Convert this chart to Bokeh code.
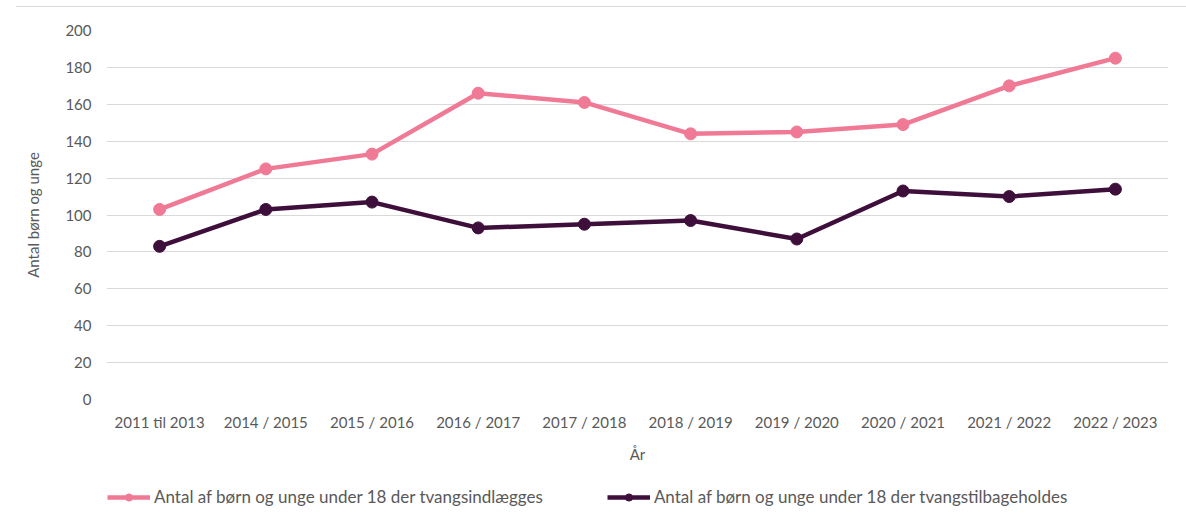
from bokeh.plotting import figure
from bokeh.models import Legend, LegendItem, FactorRange, Range1d, Div
from bokeh.layouts import column
from bokeh.embed import file_html
from bokeh.resources import INLINE

years = ["2011 til 2013", "2014 / 2015", "2015 / 2016", "2016 / 2017", "2017 / 2018",
         "2018 / 2019", "2019 / 2020", "2020 / 2021", "2021 / 2022", "2022 / 2023"]
indlaegges = [103, 125, 133, 166, 161, 144, 145, 149, 170, 185]
tilbageholdes = [83, 103, 107, 93, 95, 97, 87, 113, 110, 114]
y_ticks = [0, 20, 40, 60, 80, 100, 120, 140, 160, 180, 200]
label_pink = "Antal af børn og unge under 18 der tvangsindlægges"
label_dark = "Antal af børn og unge under 18 der tvangstilbageholdes"

PINK = "#F07A96"
DARK = "#3E0F3B"
TXT = "#595959"
FONT = "Lato"

top_rule = Div(text="", width=1170, height=7, margin=(0, 0, 0, 16),
               styles={"border-bottom": "1px solid #d9d9d9", "box-sizing": "border-box"})

x_range = FactorRange(*years, range_padding=0)
p = figure(width=1186, height=463, x_range=x_range,
           y_range=(0, 200), output_backend="svg", toolbar_location=None,
           min_border_left=106, min_border_right=18, min_border_top=23, min_border_bottom=71)
p.outline_line_color = None

p.line(years, indlaegges, line_color=PINK, line_width=4.5)
p.scatter(years, indlaegges, size=12, fill_color=PINK, line_color=PINK)
p.line(years, tilbageholdes, line_color=DARK, line_width=4.5)
p.scatter(years, tilbageholdes, size=12, fill_color=DARK, line_color=DARK)

p.yaxis.ticker = y_ticks
p.xgrid.grid_line_color = None
p.ygrid.grid_line_color = "#d9d9d9"
p.ygrid.grid_line_width = 1

for ax in (p.xaxis[0], p.yaxis[0]):
    ax.axis_line_color = None
    ax.major_tick_line_color = None
    ax.minor_tick_line_color = None
    ax.major_tick_out = 0
    ax.major_tick_in = 0
    ax.minor_tick_out = 0
    ax.major_label_text_color = TXT
    ax.major_label_text_font = FONT
    ax.major_label_text_font_size = "15px"
    ax.axis_label_text_color = TXT
    ax.axis_label_text_font = FONT
    ax.axis_label_text_font_size = "15px"
    ax.axis_label_text_font_style = "normal"

p.xaxis.axis_label = "År"
p.xaxis.major_label_standoff = 13
p.xaxis.axis_label_standoff = 11
p.yaxis.axis_label = "Antal børn og unge"
p.yaxis.major_label_standoff = 15
p.yaxis.axis_label_standoff = 20

# legend strip (its renderers hold the same data, placed outside its visible range)
p2 = figure(width=1186, height=45, x_range=x_range, y_range=Range1d(1000, 1001),
            output_backend="svg", toolbar_location=None,
            x_axis_type=None, y_axis_type=None,
            min_border_left=106, min_border_right=18, min_border_top=0, min_border_bottom=0)
p2.outline_line_color = None
p2.grid.grid_line_color = None
l1 = p2.line(years, indlaegges, line_color=PINK, line_width=4.5)
m1 = p2.scatter(years, indlaegges, size=12, fill_color=PINK, line_color=PINK)
l2 = p2.line(years, tilbageholdes, line_color=DARK, line_width=4.5)
m2 = p2.scatter(years, tilbageholdes, size=12, fill_color=DARK, line_color=DARK)

legend = Legend(items=[LegendItem(label=label_pink, renderers=[l1, m1]),
                       LegendItem(label=label_dark, renderers=[l2, m2])],
                orientation="horizontal", location=(1, 8),
                glyph_width=43, glyph_height=18, label_standoff=4, spacing=64,
                padding=0, margin=0, border_line_color=None, background_fill_alpha=0,
                label_text_font=FONT, label_text_font_size="17px", label_text_color=TXT)
p2.add_layout(legend, "center")

layout = column(top_rule, p, p2, spacing=0)
open("out.html", "w").write(file_html(layout, INLINE))
